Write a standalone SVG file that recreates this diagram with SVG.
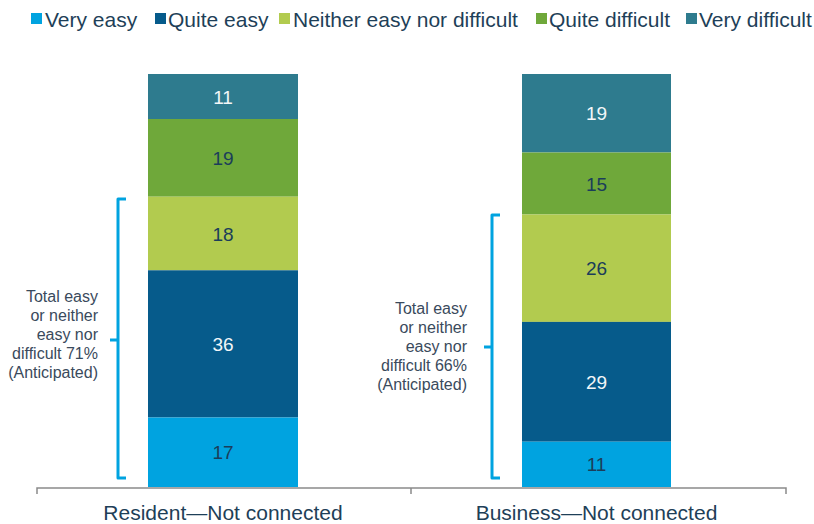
<svg xmlns="http://www.w3.org/2000/svg" width="814" height="524" viewBox="0 0 814 524">
<style>
text{font-family:"Liberation Sans",Arial,sans-serif}
.leg{font-size:21px;fill:#1e3f58}
.val{font-size:19px;text-anchor:middle}
.dk{fill:#1b3d5a}
.lt{fill:#f2f6f8}
.br{fill:none;stroke:#00a3e0;stroke-width:3;stroke-linejoin:round}
.bt{font-size:16px;fill:#3a4a5c;text-anchor:end}
.cat{font-size:21px;fill:#1e3f58;text-anchor:middle}
.ax{fill:none;stroke:#8a8a8a;stroke-width:1.5}
</style>
<rect width="814" height="524" fill="#ffffff"/>
<g id="legend">
<rect x="31" y="13" width="11" height="11" fill="#00a3e0"/><text class="leg" x="45" y="27">Very easy</text>
<rect x="155" y="13" width="11" height="11" fill="#065b8b"/><text class="leg" x="168" y="27">Quite easy</text>
<rect x="279" y="13" width="11" height="11" fill="#b2cb4f"/><text class="leg" x="293" y="27">Neither easy nor difficult</text>
<rect x="536" y="13" width="11" height="11" fill="#6fa83a"/><text class="leg" x="549" y="27">Quite difficult</text>
<rect x="686" y="13" width="11" height="11" fill="#2e7b8e"/><text class="leg" x="699" y="27">Very difficult</text>
</g>
<g id="bar-resident">
<rect x="148" y="74" width="150" height="45" fill="#2e7b8e"/>
<rect x="148" y="119" width="150" height="77.7" fill="#6fa83a"/>
<rect x="148" y="196.7" width="150" height="73.6" fill="#b2cb4f"/>
<rect x="148" y="270.3" width="150" height="147.2" fill="#065b8b"/>
<rect x="148" y="417.5" width="150" height="69.5" fill="#00a3e0"/>
<text class="val lt" x="223" y="103.5">11</text>
<text class="val dk" x="223" y="165">19</text>
<text class="val dk" x="223" y="240.5">18</text>
<text class="val lt" x="223" y="351">36</text>
<text class="val dk" x="223" y="459">17</text>
</g>
<g id="bar-business">
<rect x="522" y="74" width="149" height="78.5" fill="#2e7b8e"/>
<rect x="522" y="152.5" width="149" height="62" fill="#6fa83a"/>
<rect x="522" y="214.5" width="149" height="107.4" fill="#b2cb4f"/>
<rect x="522" y="321.9" width="149" height="119.8" fill="#065b8b"/>
<rect x="522" y="441.7" width="149" height="45.3" fill="#00a3e0"/>
<text class="val lt" x="596.5" y="120">19</text>
<text class="val dk" x="596.5" y="190.5">15</text>
<text class="val dk" x="596.5" y="275">26</text>
<text class="val lt" x="596.5" y="389">29</text>
<text class="val dk" x="596.5" y="471">11</text>
</g>
<g id="bracket-resident">
<path class="br" d="M126 199 H118 V478 H126 M118 340 H110"/>
<text class="bt" x="98" y="302">Total easy</text>
<text class="bt" x="98" y="321">or neither</text>
<text class="bt" x="98" y="340">easy nor</text>
<text class="bt" x="98" y="359">difficult 71%</text>
<text class="bt" x="98" y="378">(Anticipated)</text>
</g>
<g id="bracket-business">
<path class="br" d="M500 215 H492 V478 H500 M492 347 H484"/>
<text class="bt" x="467" y="314">Total easy</text>
<text class="bt" x="467" y="333">or neither</text>
<text class="bt" x="467" y="352">easy nor</text>
<text class="bt" x="467" y="371">difficult 66%</text>
<text class="bt" x="467" y="390">(Anticipated)</text>
</g>
<g id="axis">
<path class="ax" d="M37 494 V488 H786 V494 M411 488 V494"/>
<text class="cat" x="223" y="520">Resident—Not connected</text>
<text class="cat" x="596.5" y="520">Business—Not connected</text>
</g>
</svg>
